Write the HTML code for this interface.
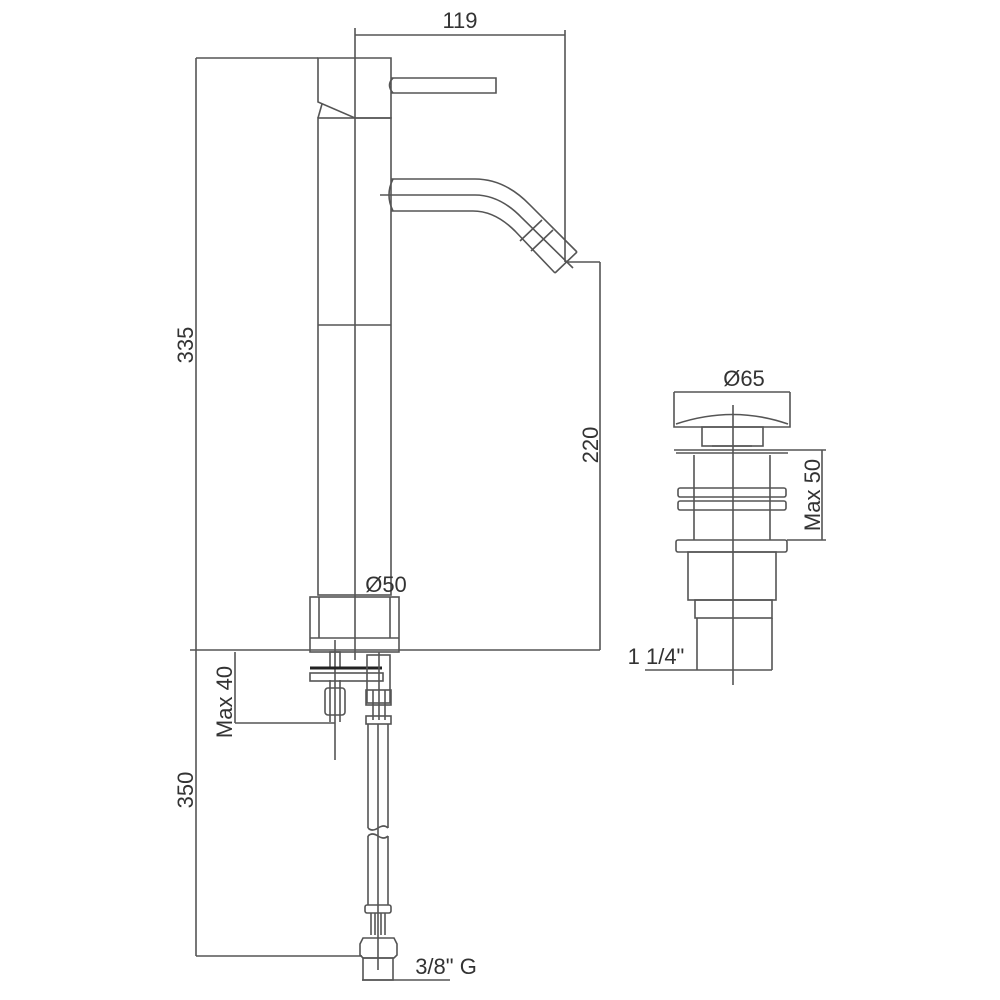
<!DOCTYPE html>
<html><head><style>body{margin:0;background:#fff}svg{display:block}text{font-family:"Liberation Sans",sans-serif;fill:#333;font-size:22px}</style></head>
<body>
<svg width="1000" height="1000" viewBox="0 0 1000 1000" xmlns="http://www.w3.org/2000/svg">
<g fill="none" stroke="#555" stroke-width="1.6">
<!-- dims main -->
<line x1="355" y1="35" x2="565" y2="35"/>
<line x1="565" y1="30" x2="565" y2="262"/>
<line x1="355" y1="28" x2="355" y2="660"/>
<line x1="196" y1="58" x2="318" y2="58"/>
<line x1="196" y1="58" x2="196" y2="956"/>
<line x1="565" y1="262" x2="600" y2="262"/>
<line x1="600" y1="262" x2="600" y2="650"/>
<line x1="190" y1="650" x2="600" y2="650"/>
<line x1="196" y1="956" x2="362" y2="956"/>
<line x1="235" y1="652" x2="235" y2="723"/>
<line x1="235" y1="723" x2="335" y2="723"/>
<!-- head -->
<path d="M318 58 H391 V118 H355 L318 102 Z"/>
<path d="M322 104 L318 118"/>
<path d="M391 78 H496 V93 H391"/>
<path d="M393 78 Q386 85 393 93"/>
<!-- body -->
<rect x="318" y="118" width="73" height="477"/>
<line x1="318" y1="325" x2="391" y2="325"/>
<!-- spout -->
<path d="M391 179 H475 Q505 179 530 205 L577 252"/>
<path d="M391 211 H473 Q495 211 515 231 L555 273"/>
<path d="M380 195 H475 Q500 195 522 218 L573 268"/>
<path d="M393 179 Q385 195 393 211"/>
<path d="M577 252 L555 273"/>
<path d="M553 230 L531 251"/>
<path d="M542 220 L520 241"/>
<!-- base -->
<rect x="310" y="597" width="89" height="55"/>
<line x1="310" y1="638" x2="399" y2="638"/>
<line x1="319" y1="597" x2="319" y2="638"/>
<line x1="390" y1="597" x2="390" y2="638"/>
<!-- under-worktop -->
<rect x="330" y="652" width="10" height="16"/>
<line x1="335" y1="640" x2="335" y2="760"/>
<line x1="330" y1="680" x2="330" y2="722"/><line x1="340" y1="680" x2="340" y2="722"/>
<rect x="325" y="688" width="20" height="27" rx="3"/>
<line x1="310" y1="668" x2="382" y2="668" stroke="#222" stroke-width="3"/>
<rect x="310" y="673" width="73" height="8"/>
<rect x="367" y="655" width="23" height="48"/>
<rect x="366" y="690" width="25" height="15"/>
<line x1="373" y1="690" x2="373" y2="720"/><line x1="379" y1="652" x2="379" y2="720"/><line x1="385" y1="690" x2="385" y2="720"/>
<rect x="366" y="716" width="25" height="8"/>
<path d="M368 724 V828 M388 724 V828 M368 836 V905 M388 836 V905 M378 724 V970"/>
<path d="M368 828 Q372 832 378 828 Q384 824 388 828"/>
<path d="M368 836 Q372 832 378 836 Q384 840 388 836"/>
<rect x="365" y="905" width="26" height="8" rx="2"/>
<line x1="371" y1="913" x2="371" y2="935"/><line x1="375" y1="913" x2="375" y2="935"/><line x1="381" y1="913" x2="381" y2="935"/><line x1="385" y1="913" x2="385" y2="935"/>
<path d="M363 938 H394 L397 944 V955 L394 958 H363 L360 955 V944 Z"/>
<rect x="363" y="958" width="30" height="22"/>
<line x1="362" y1="980" x2="450" y2="980"/>
<!-- waste -->
<line x1="674" y1="392" x2="790" y2="392"/>
<path d="M674 392 V427 H790 V392"/>
<path d="M676 424 Q733 405 788 424"/>
<rect x="702" y="427" width="61" height="19"/>
<line x1="712" y1="446" x2="752" y2="446"/>
<path d="M674 450 H790 M676 453 H788"/>
<path d="M694 455 V540 M770 455 V540"/>
<rect x="678" y="488" width="108" height="9" rx="2"/>
<rect x="678" y="501" width="108" height="9" rx="2"/>
<rect x="676" y="540" width="111" height="12" rx="2"/>
<rect x="688" y="552" width="88" height="48"/>
<rect x="695" y="600" width="77" height="18"/>
<path d="M697 618 V670 M772 618 V670"/>
<line x1="733" y1="405" x2="733" y2="685"/>
<line x1="790" y1="450" x2="826" y2="450"/>
<line x1="787" y1="540" x2="826" y2="540"/>
<line x1="822" y1="450" x2="822" y2="540"/>
<line x1="645" y1="670" x2="772" y2="670"/>
</g>
<text x="460" y="28" text-anchor="middle">119</text>
<text transform="translate(193 345) rotate(-90)" text-anchor="middle">335</text>
<text transform="translate(598 445) rotate(-90)" text-anchor="middle">220</text>
<text transform="translate(193 790) rotate(-90)" text-anchor="middle">350</text>
<text transform="translate(232 702) rotate(-90)" text-anchor="middle">Max 40</text>
<text x="386" y="592" text-anchor="middle">Ø50</text>
<text x="446" y="974" text-anchor="middle">3/8" G</text>
<text x="744" y="386" text-anchor="middle">Ø65</text>
<text transform="translate(820 495) rotate(-90)" text-anchor="middle">Max 50</text>
<text x="656" y="664" text-anchor="middle">1 1/4"</text>
</svg>
</body></html>
